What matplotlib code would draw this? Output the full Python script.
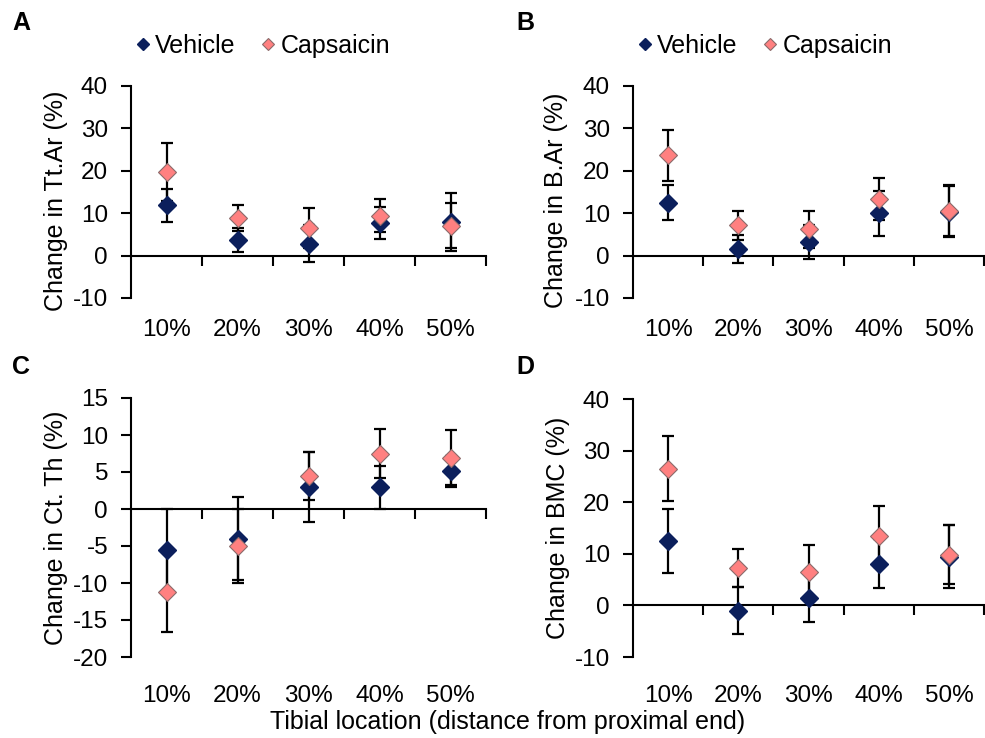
import matplotlib
matplotlib.use("Agg")
import matplotlib.pyplot as plt
import matplotlib.transforms as mtransforms
from matplotlib.lines import Line2D

plt.rcParams['font.family'] = ['Liberation Sans', 'DejaVu Sans']
plt.rcParams['axes.unicode_minus'] = False

locations = ['10%', '20%', '30%', '40%', '50%']

# panel A: Tt.Ar
tt_veh = [11.9, 3.7, 2.8, 7.6, 8.0]
tt_veh_err = [3.9, 2.9, 4.3, 3.8, 6.8]
tt_cap = [19.7, 8.8, 6.6, 9.4, 7.0]
tt_cap_err = [6.8, 3.1, 4.7, 3.9, 5.3]

# panel B: B.Ar
ba_veh = [12.5, 1.5, 3.3, 10.0, 10.4]
ba_veh_err = [4.1, 3.3, 4.0, 5.3, 5.9]
ba_cap = [23.7, 7.1, 6.2, 13.4, 10.6]
ba_cap_err = [6.0, 3.5, 4.4, 5.0, 6.0]

# panel C: Ct.Th
ct_veh = [-5.6, -4.0, 2.95, 2.95, 5.1]
ct_veh_err = [5.6, 5.6, 4.7, 2.9, 2.1]
ct_cap = [-11.2, -5.0, 4.45, 7.5, 6.95]
ct_cap_err = [5.4, 5.0, 3.3, 3.3, 3.7]

# panel D: BMC
bmc_veh = [12.4, -1.0, 1.4, 8.1, 9.4]
bmc_veh_err = [6.2, 4.6, 4.6, 4.7, 6.1]
bmc_cap = [26.5, 7.2, 6.5, 13.4, 9.8]
bmc_cap_err = [6.3, 3.7, 5.3, 5.9, 5.7]

veh_color = '#0b1f5c'
cap_color = '#ff8080'
cap_edge = '#8c6a6a'
TICK_FS = 17.5
FS = 18

W, H = 985, 738
fig = plt.figure(figsize=(W / 100, H / 100), dpi=100)


def px_axes(left, right, top, bottom):
    return fig.add_axes([left / W, 1 - bottom / H, (right - left) / W, (bottom - top) / H])


def draw_panel(ax, veh, veh_err, cap, cap_err, ylim, step, ylabel, letter, letter_xy,
               legend, label_xy):
    x = list(range(len(locations)))
    ax.errorbar(x, veh, yerr=veh_err, fmt='none', ecolor='black', elinewidth=1.6,
                capsize=4.5, capthick=1.6, zorder=2)
    ax.errorbar(x, cap, yerr=cap_err, fmt='none', ecolor='black', elinewidth=1.6,
                capsize=4.5, capthick=1.6, zorder=2)
    ax.plot(x, veh, linestyle='none', marker='D', ms=9, color=veh_color,
            mec=veh_color, zorder=3)
    ax.plot(x, cap, linestyle='none', marker='D', ms=9, color=cap_color,
            mec=cap_edge, mew=0.8, zorder=4)

    ax.set_xlim(-0.5, len(locations) - 0.5)
    ax.set_ylim(*ylim)
    ax.set_yticks(range(ylim[0], ylim[1] + 1, step))
    ax.spines['top'].set_visible(False)
    ax.spines['right'].set_visible(False)
    ax.spines['bottom'].set_position(('data', 0))
    for s in ('left', 'bottom'):
        ax.spines[s].set_linewidth(1.5)
    ax.set_xticks([i + 0.5 for i in x])
    ax.set_xticklabels([])
    ax.tick_params(axis='x', direction='out', length=7, width=1.5)
    ax.tick_params(axis='y', direction='out', length=7.5, width=1.5,
                   labelsize=TICK_FS, pad=9)

    trans = mtransforms.blended_transform_factory(ax.transData, ax.transAxes)
    for i, lab in enumerate(locations):
        ax.text(i, -0.15, lab, transform=trans, ha='center', va='center',
                fontsize=TICK_FS)

    ax.set_ylabel(ylabel, fontsize=FS)
    ax.yaxis.set_label_coords(*label_xy)

    fig.text(letter_xy[0] / W, 1 - letter_xy[1] / H, letter, fontsize=FS,
             fontweight='bold', ha='left', va='center')

    if legend:
        handles = [Line2D([], [], linestyle='none', marker='D', ms=6, color=veh_color),
                   Line2D([], [], linestyle='none', marker='D', ms=6, color=cap_color,
                          mec=cap_edge, mew=0.8)]
        ax.legend(handles, ['Vehicle', 'Capsaicin'], ncol=2, loc='center left',
                  bbox_to_anchor=(0.012, 1.19), frameon=False, fontsize=FS,
                  handletextpad=0.2, columnspacing=1.0, handlelength=0.6,
                  borderaxespad=0, borderpad=0)


axA = px_axes(131, 486, 86, 298)
axB = px_axes(633, 984, 86, 298)
axC = px_axes(131, 486, 398, 657)
axD = px_axes(633, 984, 399, 657)

draw_panel(axA, tt_veh, tt_veh_err, tt_cap, tt_cap_err, (-10, 40), 10,
           'Change in Tt.Ar (%)', 'A', (12, 23), True, (-0.178, 0.46))
draw_panel(axB, ba_veh, ba_veh_err, ba_cap, ba_cap_err, (-10, 40), 10,
           'Change in B.Ar (%)', 'B', (516, 23), True, (-0.185, 0.46))
draw_panel(axC, ct_veh, ct_veh_err, ct_cap, ct_cap_err, (-20, 15), 5,
           'Change in Ct. Th (%)', 'C', (12, 367), False, (-0.178, 0.5))
draw_panel(axD, bmc_veh, bmc_veh_err, bmc_cap, bmc_cap_err, (-10, 40), 10,
           'Change in BMC (%)', 'D', (516, 367), False, (-0.18, 0.5))

fig.text(508 / W, 1 - 722 / H, 'Tibial location (distance from proximal end)',
         fontsize=FS, ha='center', va='center')

fig.savefig('out.png', dpi=100)
